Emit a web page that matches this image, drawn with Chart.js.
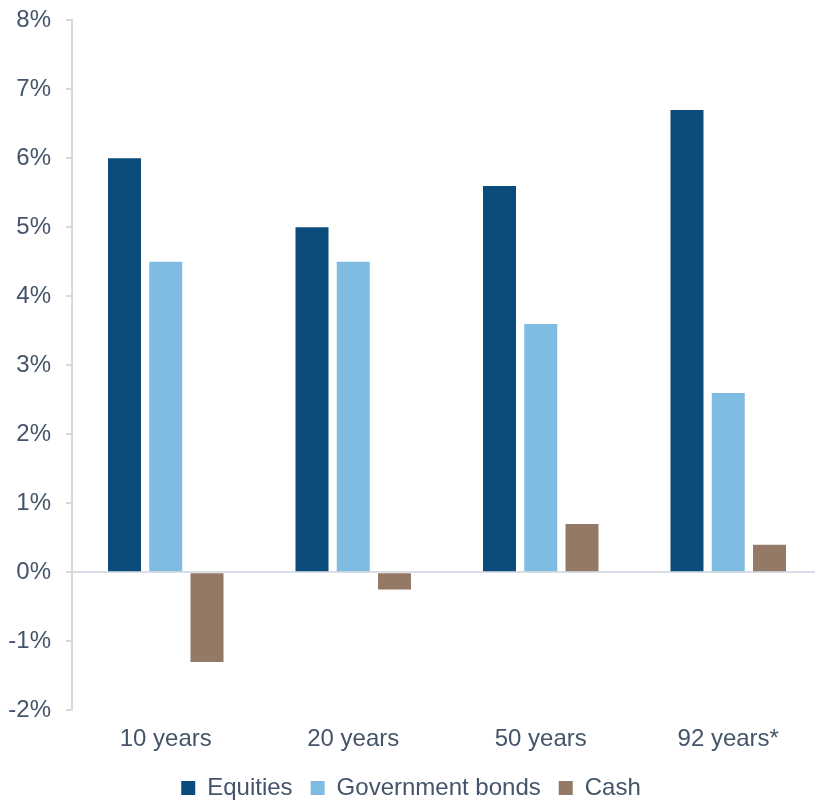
<!DOCTYPE html>
<html>
<head>
<meta charset="utf-8">
<script src="https://cdn.jsdelivr.net/npm/chart.js@4/dist/chart.umd.min.js"></script>
<style>
  html, body { margin: 0; padding: 0; overflow: hidden; background: #fff; }
  #wrap { position: absolute; left: 0; top: -9px; width: 830px; height: 819px; }
</style>
</head>
<body>
<div id="wrap"><canvas id="returns-chart"></canvas></div>
<script>
//? Data
const periods = ['10 years', '20 years', '50 years', '92 years*']
const equities = [6.0, 5.0, 5.6, 6.7]
const govBonds = [4.5, 4.5, 3.6, 2.6]
const cash = [-1.3, -0.25, 0.7, 0.4]
const yTicks = [-2, -1, 0, 1, 2, 3, 4, 5, 6, 7, 8]

const textColor = '#44546A'
const fontFamily = 'Liberation Sans, Arial, sans-serif'

const dataReturns = {
    labels: periods,
    datasets: [
        { label: 'Equities', data: equities, backgroundColor: '#0C4C7D' },
        { label: 'Government bonds', data: govBonds, backgroundColor: '#7FBCE2' },
        { label: 'Cash', data: cash, backgroundColor: '#947966' }
    ]
}

const configReturns = {
    type: 'bar',
    data: dataReturns,
    options: {
        responsive: true,
        maintainAspectRatio: false,
        animation: false,
        categoryPercentage: 0.66,
        barPercentage: 0.8,
        layout: { padding: { top: 4, right: 8, left: 0, bottom: 0 } },
        plugins: {
            tooltip: { enabled: false },
            legend: {
                position: 'bottom',
                labels: {
                    color: textColor,
                    font: { family: fontFamily, size: 24 },
                    boxWidth: 14,
                    boxHeight: 14,
                    padding: 18
                }
            }
        },
        scales: {
            x: {
                grid: { display: false },
                border: { display: false },
                afterFit: axis => { axis.height -= 3 },
                ticks: {
                    color: textColor,
                    font: { family: fontFamily, size: 24 },
                    padding: 7
                }
            },
            y: {
                min: -2,
                max: 8,
                afterBuildTicks: axis => { axis.ticks = yTicks.map(v => ({ value: v })) },
                afterFit: axis => { axis.width = 72 },
                border: { display: true, color: '#D9D9D9', width: 2 },
                grid: {
                    color: ctx => ctx.tick && ctx.tick.value === 0 ? '#D9DEE6' : 'transparent',
                    lineWidth: 2,
                    tickColor: '#D9D9D9',
                    tickLength: 6
                },
                ticks: {
                    color: textColor,
                    font: { family: fontFamily, size: 24 },
                    padding: 15,
                    callback: v => v + '%'
                }
            }
        }
    }
}

const returnsChart = new Chart(document.getElementById('returns-chart'), configReturns)
</script>
</body>
</html>
